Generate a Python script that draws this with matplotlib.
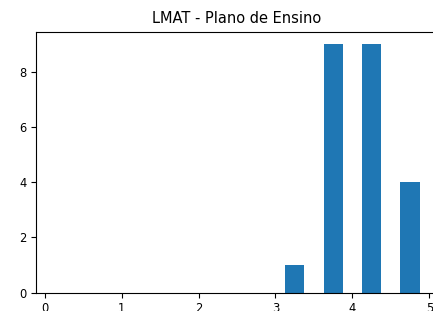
import matplotlib
matplotlib.use("Agg")
import matplotlib.pyplot as plt

plt.rcParams["font.family"] = ["DejaVu Sans"]

title = "LMAT - Plano de Ensino"
bin_edges = [0.0, 0.5, 1.0, 1.5, 2.0, 2.5, 3.0, 3.5, 4.0, 4.5, 5.0]
counts = [0, 0, 0, 0, 0, 0, 1, 9, 9, 4]

fig = plt.figure(figsize=(4.33, 3.11), dpi=100)
ax = fig.add_axes([36/433, (311-292.7)/311, (438-36)/433, (292.7-31.7)/311])
ax.hist(bin_edges[:-1], bins=bin_edges, weights=counts, rwidth=0.5, color="#1f77b4")
ax.set_ylim(0, 9.45)
ax.set_yticks([0, 2, 4, 6, 8])
ax.set_xticks([0, 1, 2, 3, 4, 5])
ax.tick_params(labelsize=8.3)
ax.set_title(title, fontsize=10.5)
fig.savefig("out.png", dpi=100)
